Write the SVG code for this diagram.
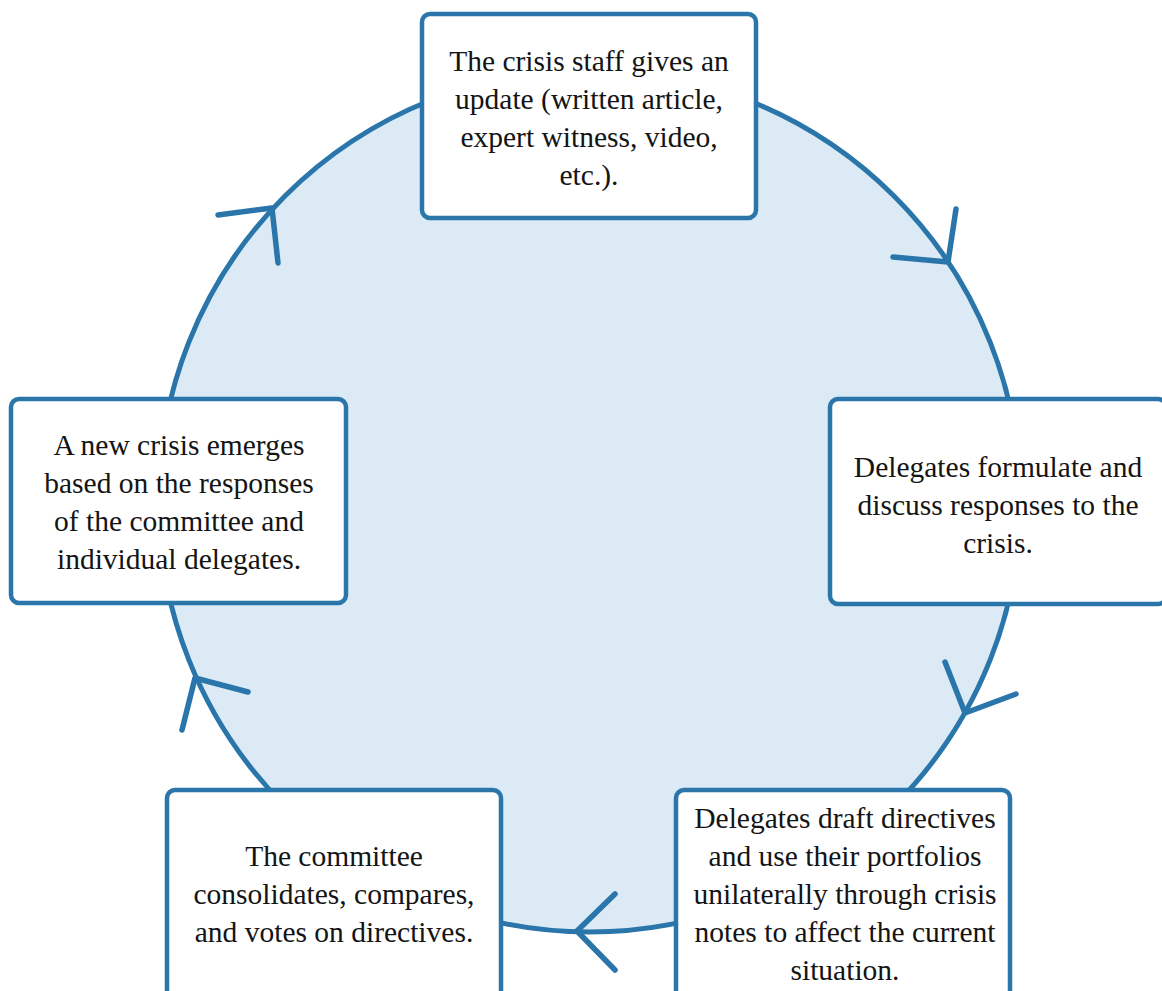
<svg xmlns="http://www.w3.org/2000/svg" width="1162" height="991" viewBox="0 0 1162 991">
  <style>
    .cycle { fill: #dbeaf5; stroke: #2a76aa; stroke-width: 5; }
    .arrow { fill: none; stroke: #2a76aa; stroke-width: 5.5; stroke-linecap: round; stroke-linejoin: round; }
    .box { fill: #ffffff; stroke: #2a76aa; stroke-width: 4.5; }
    .label { font-family: "Liberation Serif", "Times New Roman", serif; font-size: 29.5px; fill: #141414; text-anchor: middle; }
  </style>

  <!-- cycle ring and direction chevrons -->
  <g id="connectors">
    <circle class="cycle" cx="589.5" cy="501" r="431"/>
    <polyline class="arrow" points="956,209 948,262 893,257"/>
    <polyline class="arrow" points="945,662 965,713 1016,694"/>
    <polyline class="arrow" points="615,894 577,931 615,970"/>
    <polyline class="arrow" points="248,692 195,678 182,730"/>
    <polyline class="arrow" points="218,215 272,208 278,263"/>
  </g>

  <g id="node-update">
    <rect class="box" x="422" y="14" width="334" height="204" rx="8"/>
    <text class="label" x="589" y="71">The crisis staff gives an</text>
    <text class="label" x="589" y="109">update (written article,</text>
    <text class="label" x="589" y="147">expert witness, video,</text>
    <text class="label" x="589" y="185">etc.).</text>
  </g>

  <g id="node-responses">
    <rect class="box" x="830" y="399" width="336" height="205" rx="8"/>
    <text class="label" x="998" y="477">Delegates formulate and</text>
    <text class="label" x="998" y="515">discuss responses to the</text>
    <text class="label" x="998" y="553">crisis.</text>
  </g>

  <g id="node-directives">
    <rect class="box" x="676" y="790" width="334" height="215" rx="8"/>
    <text class="label" x="845" y="828">Delegates draft directives</text>
    <text class="label" x="845" y="866">and use their portfolios</text>
    <text class="label" x="845" y="904">unilaterally through crisis</text>
    <text class="label" x="845" y="942">notes to affect the current</text>
    <text class="label" x="845" y="980">situation.</text>
  </g>

  <g id="node-vote">
    <rect class="box" x="167" y="790" width="334" height="215" rx="8"/>
    <text class="label" x="334" y="866">The committee</text>
    <text class="label" x="334" y="904">consolidates, compares,</text>
    <text class="label" x="334" y="942">and votes on directives.</text>
  </g>

  <g id="node-new-crisis">
    <rect class="box" x="11" y="399" width="335" height="204" rx="8"/>
    <text class="label" x="179" y="455">A new crisis emerges</text>
    <text class="label" x="179" y="493">based on the responses</text>
    <text class="label" x="179" y="531">of the committee and</text>
    <text class="label" x="179" y="569">individual delegates.</text>
  </g>
</svg>
